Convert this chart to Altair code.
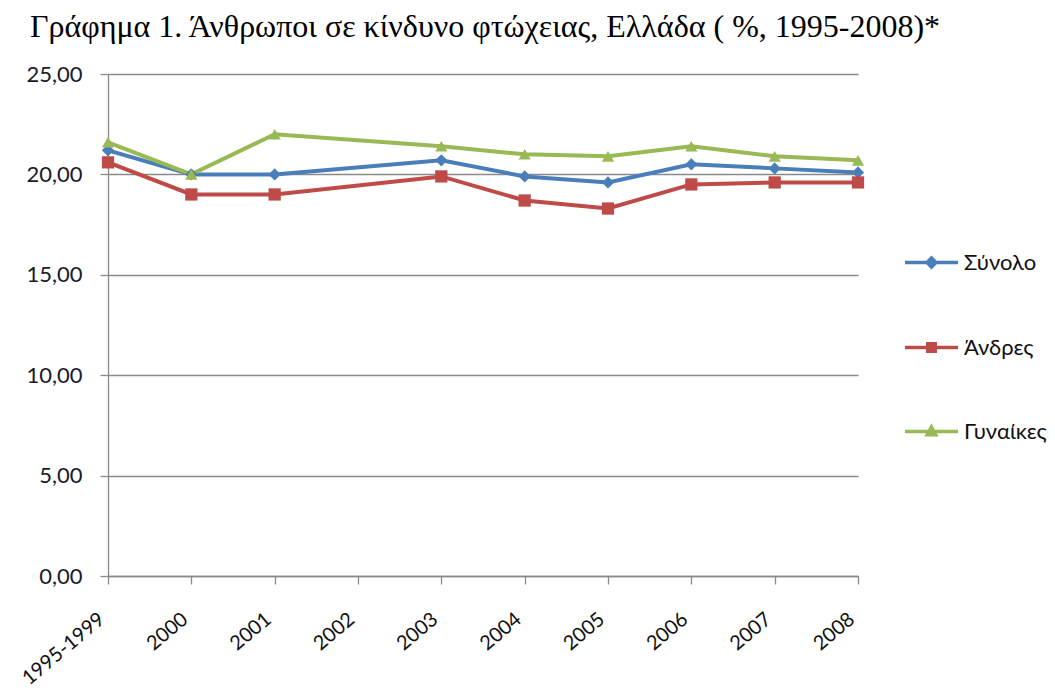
import altair as alt
import pandas as pd

years = ["1995-1999", "2000", "2001", "2002", "2003", "2004", "2005", "2006", "2007", "2008"]
series = ["Σύνολο", "Άνδρες", "Γυναίκες"]
total = [21.2, 20.0, 20.0, None, 20.7, 19.9, 19.6, 20.5, 20.3, 20.1]
men = [20.6, 19.0, 19.0, None, 19.9, 18.7, 18.3, 19.5, 19.6, 19.6]
women = [21.6, 20.0, 22.0, None, 21.4, 21.0, 20.9, 21.4, 20.9, 20.7]
colors = ["#4A7EBB", "#BE4B48", "#98B954"]
markers = ["diamond", "square", "triangle-up"]
y_ticks = [0, 5, 10, 15, 20, 25]
title_text = "Γράφημα 1. Άνθρωποι σε κίνδυνο φτώχειας, Ελλάδα ( %, 1995-2008)*"

rows = []
for name, vals in zip(series, [total, men, women]):
    for yr, v in zip(years, vals):
        if v is not None:
            rows.append({"year": yr, "series": name, "value": v})
df = pd.DataFrame(rows)

FONT = "Lato, Noto Sans, sans-serif"
GRID = "#8a8a8a"

# legend symbol paths: a horizontal line with a marker in the middle
P_DIA = "M-1,0L1,0M0,-0.17L0.17,0L0,0.17L-0.17,0Z"
P_SQ = "M-1,0L1,0M-0.14,-0.14L0.14,-0.14L0.14,0.14L-0.14,0.14Z"
P_TRI = "M-1,0L1,0M0,-0.17L0.16,0.12L-0.16,0.12Z"

shape_expr = "datum.value === '%s' ? '%s' : (datum.value === '%s' ? '%s' : '%s')" % (
    series[1], P_SQ, series[2], P_TRI, P_DIA)

legend = alt.Legend(
    title=None, orient="none", legendX=795, legendY=160,
    labelFont=FONT, labelFontSize=22, labelColor="#111111", labelOffset=4,
    symbolSize=2809, rowPadding=44, symbolStrokeWidth=3.5,
    symbolType={"expr": shape_expr},
    symbolStrokeColor={"expr": "scale('color', datum.value)"},
)

color = alt.Color("series:N", scale=alt.Scale(domain=series, range=colors), legend=legend)
x = alt.X("year:N", scale=alt.Scale(domain=years, type="point", padding=0), sort=years,
          axis=alt.Axis(title=None, grid=False, domain=True, domainColor=GRID, domainWidth=1.3,
                        ticks=True, tickColor=GRID, tickSize=8, tickWidth=1.3,
                        labelAngle=-40, labelAlign="right", labelBaseline="bottom",
                        labelPadding=40, labelFont=FONT, labelFontSize=20, labelColor="#111111"))
y = alt.Y("value:Q", scale=alt.Scale(domain=[0, 25], nice=False, zero=True),
          axis=alt.Axis(title=None, values=y_ticks, grid=True, gridColor=GRID, gridWidth=1.3,
                        domain=True, domainColor=GRID, domainWidth=1.3,
                        ticks=True, tickColor=GRID, tickSize=8, tickWidth=1.3,
                        labelExpr="replace(format(datum.value, '.2f'), '.', ',')",
                        labelPadding=18, labelFont=FONT, labelFontSize=22, labelColor="#1a1a2a"))

base = alt.Chart(df)
layers = [base.mark_line(strokeWidth=4).encode(x=x, y=y, color=color, detail="series:N")]
for name, mk in zip(series, markers):
    layers.append(
        base.transform_filter(alt.datum.series == name)
        .mark_point(shape=mk, filled=True, size=150, opacity=1)
        .encode(x=x, y=y, color=color)
    )

chart = alt.layer(*layers).properties(
    width=750, height=502,
    autosize=alt.AutoSizeParams(type="none"),
    padding={"left": 100, "top": 66, "right": 189, "bottom": 120},
    title=alt.TitleParams(title_text, font="Liberation Serif", fontSize=32, fontWeight="normal",
                          color="#000000", anchor="start", frame="group", dx=-78, offset=-6,
                          baseline="alphabetic"),
).configure_view(stroke=None)

chart.save("out.html", embed_options={"renderer": "svg", "actions": False})
